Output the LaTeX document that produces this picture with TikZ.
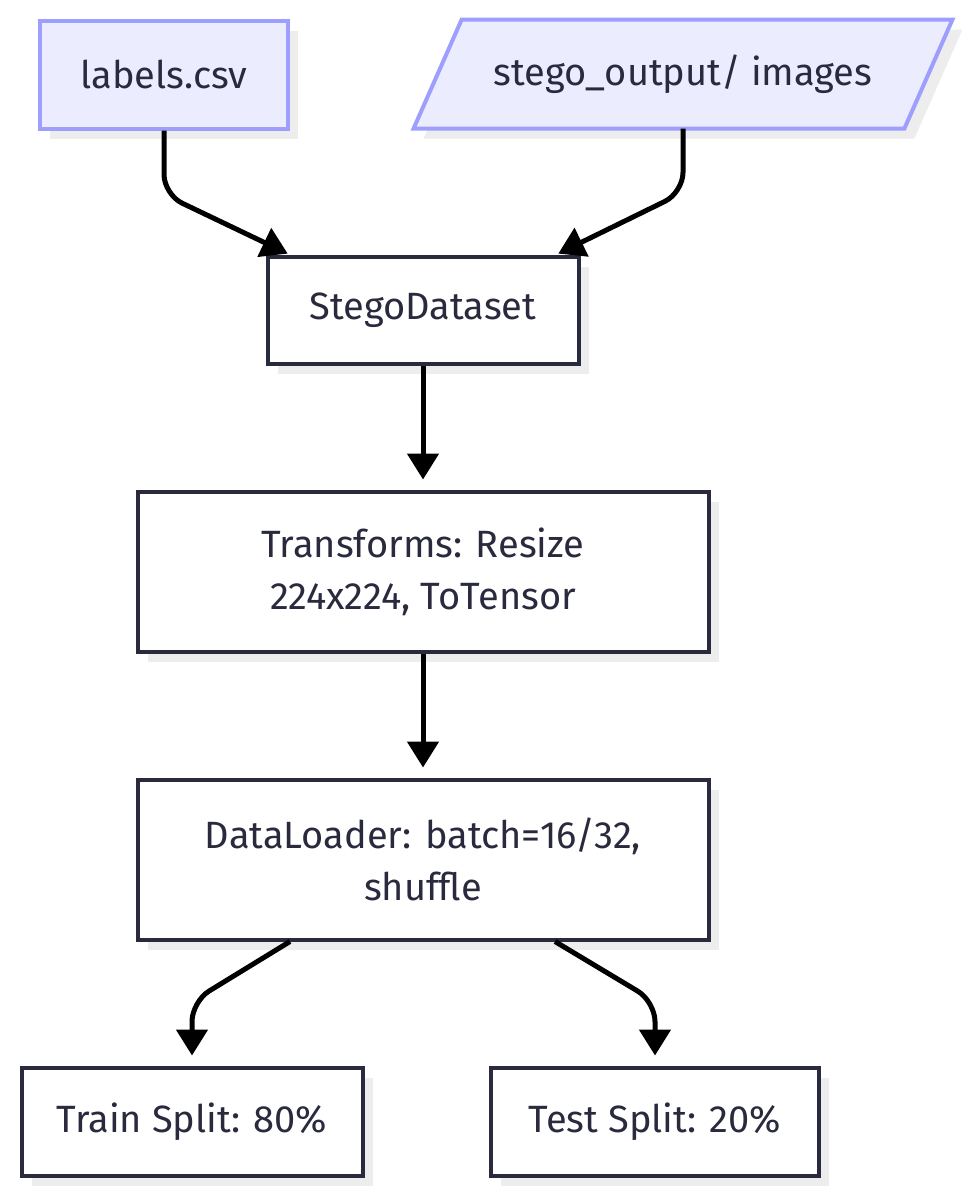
\documentclass[tikz,border=0pt]{standalone}
\usepackage{fontspec}
\setmainfont{Fira Sans}
\usetikzlibrary{arrows.meta,positioning,shadows,backgrounds}
\definecolor{ink}{HTML}{2A2A3E}
\definecolor{lavfill}{HTML}{ECECFF}
\definecolor{lavline}{HTML}{9E9EFF}
\definecolor{shade}{HTML}{EDEDED}

\begin{document}
\begin{tikzpicture}[>={Triangle[length=13pt,width=15.5pt]},
  every node/.style={font=\fontsize{19}{26}\selectfont, text=ink},
  box/.style={draw=ink, line width=2pt, fill=white, align=center, inner sep=0pt,
    drop shadow={shadow xshift=5pt, shadow yshift=-5pt, fill=shade, opacity=1}},
  src/.style={box, draw=lavline, fill=lavfill},
  iobox/.style={draw=lavline, fill=lavfill, line width=2pt,
    drop shadow={shadow xshift=5pt, shadow yshift=-5pt, fill=shade, opacity=1}},
  flow/.style={->, line width=2.5pt, black, rounded corners=10pt}]
\useasboundingbox (0,0) rectangle (488.5pt,-600pt);
\node[box, minimum width=155.5pt, minimum height=53.5pt] (dataset) at (211.5pt,-155pt) {StegoDataset};
\node[src, minimum width=124pt, minimum height=54pt, above=62pt of dataset, xshift=-129.5pt] (labels) {labels.csv};
\node[inner sep=0pt, minimum width=245pt, minimum height=54pt, above=63pt of dataset, xshift=130pt] (stego) {stego\_output/ images};
\node[box, minimum width=285.5pt, minimum height=80pt, below=62pt of dataset] (transforms) {Transforms: Resize\\ 224x224, ToTensor};
\node[box, minimum width=285.5pt, minimum height=80pt, below=62pt of transforms] (loader) {DataLoader: batch=16/32,\\ shuffle};
\node[box, minimum width=170.5pt, minimum height=54pt, below=62pt of loader, xshift=-115.5pt] (train) {Train Split: 80\%};
\node[box, minimum width=164pt, minimum height=54pt, below=62pt of loader, xshift=116pt] (test) {Test Split: 20\%};
% slanted input box behind its text
\begin{scope}[on background layer]
\draw[iobox] ([xshift=12pt]stego.north west) -- ([xshift=12pt]stego.north east)
  -- ([xshift=-12pt]stego.south east) -- ([xshift=-12pt]stego.south west) -- cycle;
\end{scope}
\draw[flow, shorten >=1pt] (labels.south) -- ++(0,-32pt) -- ([xshift=12pt]dataset.north west);
\draw[flow, shorten >=1pt] (stego.south) -- ++(0,-32pt) -- ([xshift=-12pt]dataset.north east);
\draw[flow, shorten >=5pt] (dataset) -- (transforms);
\draw[flow, shorten >=5pt] (transforms) -- (loader);
\draw[flow, shorten >=5pt] ([xshift=-66.5pt]loader.south) -- ++(-49pt,-30pt) -- (train.north);
\draw[flow, shorten >=5pt] ([xshift=66pt]loader.south) -- ++(50pt,-30pt) -- (test.north);
\end{tikzpicture}
\end{document}
